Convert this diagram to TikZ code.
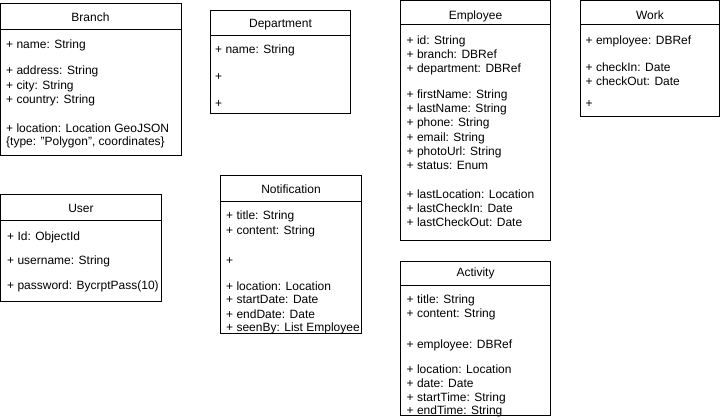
\documentclass[tikz,border=0pt]{standalone}
\usepackage{fontspec}
\setmainfont{Liberation Sans}
\begin{document}
\begin{tikzpicture}[x=1pt,y=-1pt,
  umlbox/.style={draw=black,line width=1pt,fill=white},
  sep/.style={draw=black,line width=1pt},
  ttl/.style={inner sep=0pt,anchor=base,font=\fontsize{12}{14}\selectfont},
  row/.style={inner sep=0pt,anchor=base west,font=\fontsize{12}{14}\selectfont}]
\useasboundingbox (0,0) rectangle (721,420);
% ---------- Branch
\draw[umlbox] (0.5,4) rectangle (181,155.5);
\draw[sep] (0.5,30) -- (181,30);
\node[ttl] (brT) at (90.5,21.5) {Branch};
\node[row] (br1) at (6,49) {+ name: String};
\node[row] (br2) at (6,75) {+ address: String};
\node[row] (br3) at (6,89) {+ city: String};
\node[row] (br4) at (6,103) {+ country: String};
\node[row] (br5) at (6,132) {+ location: Location GeoJSON};
\node[row] (br6) at (6,146) {\{type: "Polygon", coordinates\}};
% ---------- Department
\draw[umlbox] (210.5,10.5) rectangle (350.5,114);
\draw[sep] (210.5,35.5) -- (350.5,35.5);
\node[ttl] (dpT) at (280.5,27.5) {Department};
\node[row] (dp1) at (215,54) {+ name: String};
\node[row] (dp2) at (215,81) {+};
\node[row] (dp3) at (215,108) {+};
% ---------- Employee
\draw[umlbox] (400.5,1) rectangle (550.5,240);
\draw[sep] (400.5,25) -- (550.5,25);
\node[ttl] (emT) at (475.5,19.5) {Employee};
\node[row] (em1) at (406.5,45) {+ id: String};
\node[row] (em2) at (406.5,59) {+ branch: DBRef};
\node[row] (em3) at (406.5,73) {+ department: DBRef};
\node[row] (em4) at (406.5,99) {+ firstName: String};
\node[row] (em5) at (406.5,113) {+ lastName: String};
\node[row] (em6) at (406.5,127) {+ phone: String};
\node[row] (em7) at (406.5,141) {+ email: String};
\node[row] (em8) at (406.5,155) {+ photoUrl: String};
\node[row] (em9) at (406.5,169) {+ status: Enum};
\node[row] (em10) at (406.5,198) {+ lastLocation: Location};
\node[row] (em11) at (406.5,212) {+ lastCheckIn: Date};
\node[row] (em12) at (406.5,226) {+ lastCheckOut: Date};
% ---------- Work
\draw[umlbox] (580.5,1) rectangle (719.5,116.5);
\draw[sep] (580.5,24.5) -- (719.5,24.5);
\node[ttl] (wkT) at (650,19.5) {Work};
\node[row] (wk1) at (585.5,45) {+ employee: DBRef};
\node[row] (wk2) at (585.5,72) {+ checkIn: Date};
\node[row] (wk3) at (585.5,86) {+ checkOut: Date};
\node[row] (wk4) at (585.5,108) {+};
% ---------- User
\draw[umlbox] (0.5,194) rectangle (161.5,301.5);
\draw[sep] (0.5,220) -- (161.5,220);
\node[ttl] (usT) at (81,212) {User};
\node[row] (us1) at (7,240) {+ Id: ObjectId};
\node[row] (us2) at (7,264) {+ username: String};
\node[row] (us3) at (7,289) {+ password: BycrptPass(10)};
% ---------- Notification
\draw[umlbox] (220.5,175.5) rectangle (361.5,333);
\draw[sep] (220.5,201.5) -- (361.5,201.5);
\node[ttl] (ntT) at (291,193.5) {Notification};
\node[row] (nt1) at (226,219) {+ title: String};
\node[row] (nt2) at (226,234) {+ content: String};
\node[row] (nt3) at (226,264) {+};
\node[row] (nt4) at (226,290) {+ location: Location};
\node[row] (nt5) at (226,303) {+ startDate: Date};
\node[row] (nt6) at (226,318) {+ endDate: Date};
\node[row] (nt7) at (226,331) {+ seenBy: List Employee};
% ---------- Activity
\draw[umlbox] (400.5,261) rectangle (550.5,415);
\draw[sep] (400.5,285.5) -- (550.5,285.5);
\node[ttl] (acT) at (475.5,276.5) {Activity};
\node[row] (ac1) at (406.5,303) {+ title: String};
\node[row] (ac2) at (406.5,317) {+ content: String};
\node[row] (ac3) at (406.5,348) {+ employee: DBRef};
\node[row] (ac4) at (406.5,373) {+ location: Location};
\node[row] (ac5) at (406.5,387) {+ date: Date};
\node[row] (ac6) at (406.5,401) {+ startTime: String};
\node[row] (ac7) at (406.5,414) {+ endTime: String};
\end{tikzpicture}
\end{document}
